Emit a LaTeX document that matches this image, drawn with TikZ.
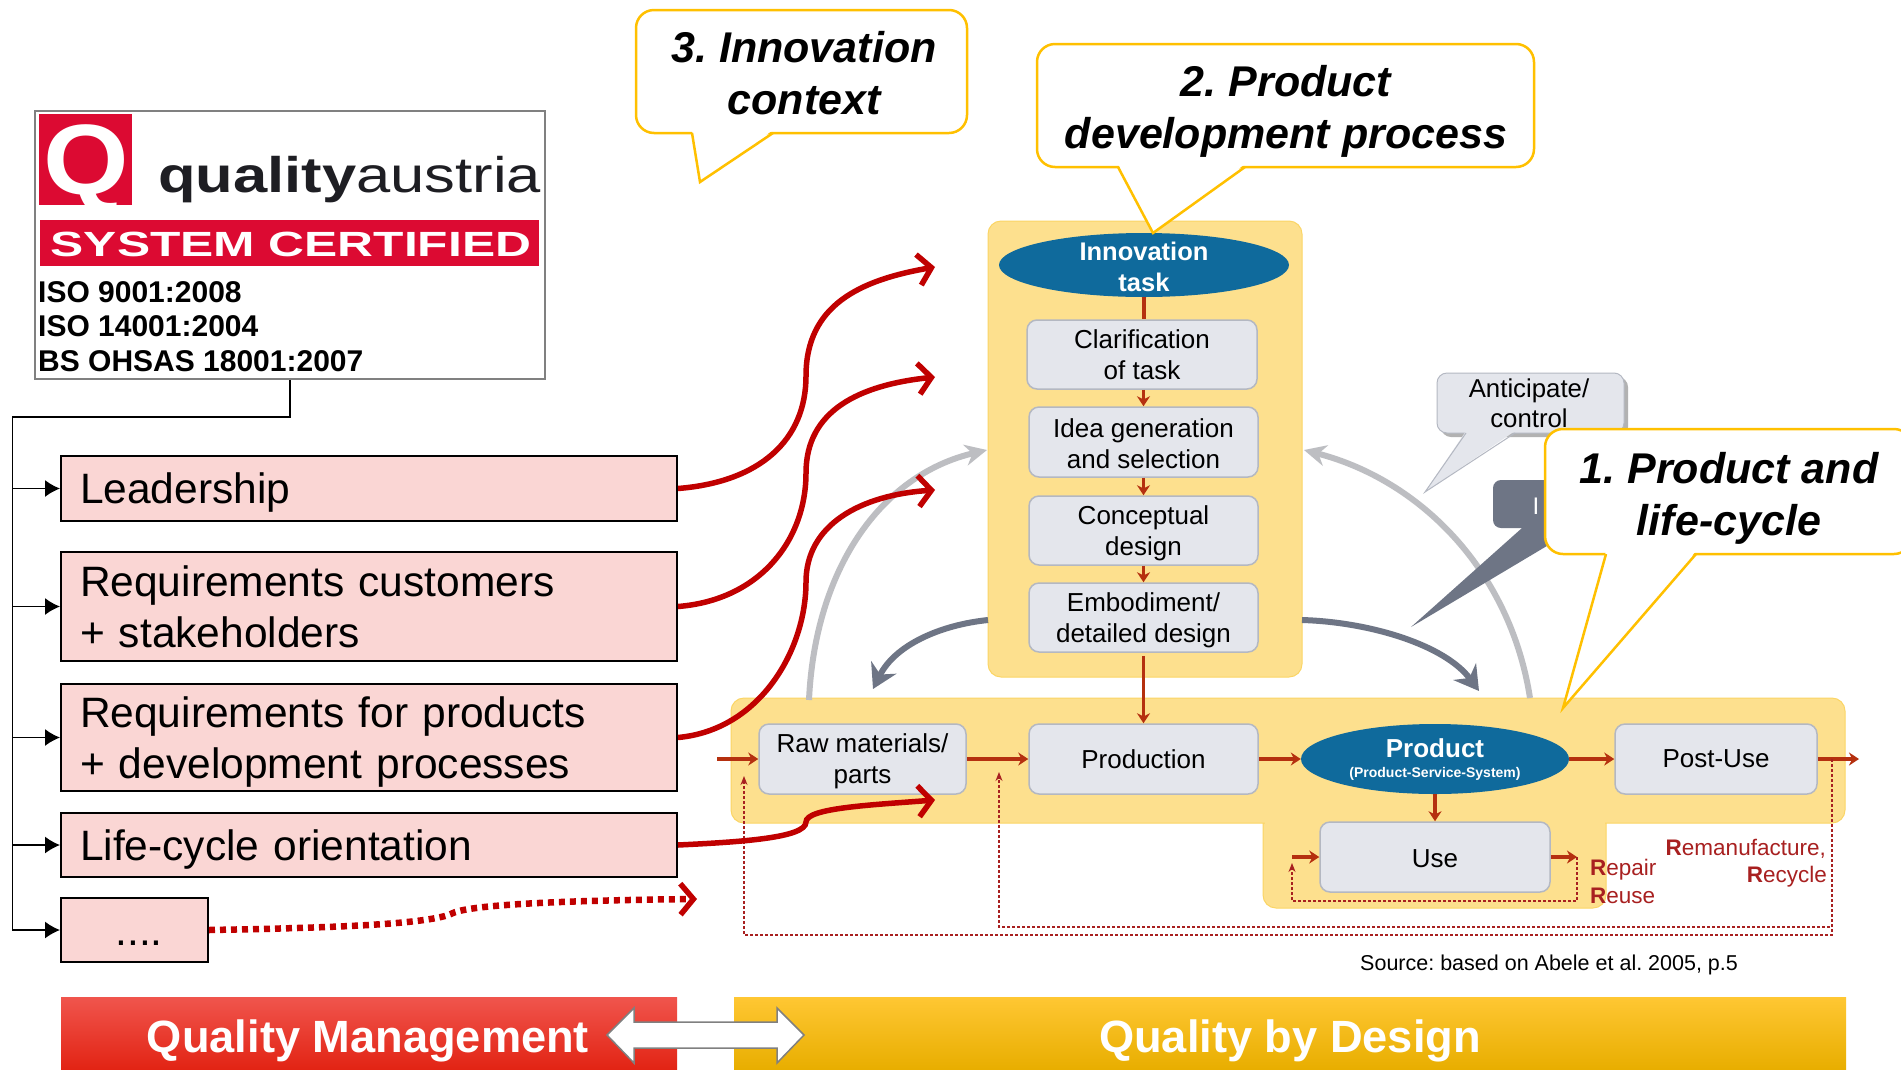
\documentclass[tikz,border=0pt]{standalone}
\usepackage{fontspec}
\setmainfont{Liberation Sans}
\usetikzlibrary{arrows.meta,shapes.geometric}
\frenchspacing
\newcommand{\fsz}[2]{\fontsize{#1}{#2}\selectfont}
\newcommand{\shim}[1]{\rule{0pt}{#1pt}}
\definecolor{pinkfill}{HTML}{FAD6D4}
\definecolor{panelfill}{HTML}{FDE08E}
\definecolor{panelline}{HTML}{FBD565}
\definecolor{boxfill}{HTML}{E4E6EC}
\definecolor{boxline}{HTML}{B4B8C2}
\definecolor{ovalfill}{HTML}{0F6A9C}
\definecolor{thickred}{HTML}{C00000}
\definecolor{procred}{HTML}{B5300F}
\definecolor{labred}{HTML}{A82020}
\definecolor{calloutline}{HTML}{FFC000}
\definecolor{lightarc}{HTML}{BDBEC2}
\definecolor{darkarc}{HTML}{6E7585}
\definecolor{logored}{HTML}{DC0A32}
\definecolor{barRa}{HTML}{F0554D}
\definecolor{barRb}{HTML}{EC3323}
\definecolor{barRc}{HTML}{E22414}
\definecolor{barYa}{HTML}{FFC733}
\definecolor{barYb}{HTML}{FFC000}
\definecolor{barYc}{HTML}{E8AE00}
\tikzset{
  pinkbox/.style={draw=black,line width=2pt,fill=pinkfill,anchor=north west,inner sep=0pt,align=left,font=\fsz{42.5}{51}},
  panel/.style={fill=panelfill,draw=panelline,line width=1pt,rounded corners=13pt},
  procbox/.style={draw=boxline,line width=1.5pt,fill=boxfill,rounded corners=10pt,align=center,inner sep=0pt,font=\fsz{26}{31}},
  oval/.style={ellipse,fill=ovalfill,inner sep=0pt},
  ovaltext/.style={inner sep=0pt,align=center,text=white},
  flow/.style={draw=procred,line width=3.5pt,-{Stealth[length=10pt,width=13pt]}},
  back/.style={draw=labred,line width=1.1pt,densely dashed,-{Stealth[length=9pt,width=7pt]}},
  bigcurve/.style={draw=thickred,line width=5.5pt,line cap=butt,-{Straight Barb[length=13pt,width=31pt,line width=5.5pt]}},
  bus/.style={draw=black,line width=1.5pt},
  busarrow/.style={bus,-{Latex[length=15pt,width=17pt]}},
  calloutshape/.style={draw=calloutline,line width=2.5pt,fill=white,rounded corners=18pt},
  callouttail/.style={draw=calloutline,line width=2.5pt,line join=miter},
  callouttext/.style={align=center,inner sep=0pt,font=\fsz{43}{51.5}\bfseries\itshape},
  lightcurve/.style={draw=lightarc,line width=6pt,-{Stealth[length=22pt,width=21pt]}},
  darkcurve/.style={draw=darkarc,line width=6pt,-{Stealth[length=24pt,width=28pt]}},
  redlab/.style={text=labred,inner sep=0pt,anchor=base,font=\fsz{22.5}{27}},
  plain/.style={inner sep=0pt,anchor=base west},
  barlabel/.style={text=white,inner sep=0pt,anchor=base,font=\fsz{45.2}{50}\bfseries},
}
\begin{document}
\begin{tikzpicture}[x=1pt,y=-1pt]
\useasboundingbox (0,0) rectangle (1901,1069);
\fill[white] (0,0) rectangle (1901,1069);

% logo
\node[draw={rgb,255:red,128;green,128;blue,128},line width=2.5pt,fill=white,minimum width=510pt,minimum height=268pt,inner sep=0pt] (logo) at (290,245) {};
\node[fill=logored,minimum width=93pt,minimum height=91pt,inner sep=0pt] (qsquare) at (85.5,159.5) {};
\node[text=white,inner sep=0pt,anchor=base,font=\fsz{100}{100}\bfseries] (qmark) at (86,194) {\scalebox{1.1}[1]{Q}};
\node[plain,text={rgb,255:red,30;green,30;blue,35}] (qaname) at (158,192) {\scalebox{1.23}[1]{\fsz{50}{50}\textbf{quality}austria}};
\node[fill=logored,minimum width=499pt,minimum height=46pt,inner sep=0pt] (sysbar) at (289.5,243) {};
\node[text=white,inner sep=0pt,anchor=base,font=\fsz{35}{35}\bfseries] (systext) at (291,256) {\scalebox{1.42}[1]{SYSTEM CERTIFIED}};
\node[plain,font=\fsz{30}{30}\bfseries] (iso1) at (38,302) {ISO 9001:2008};
\node[plain,font=\fsz{30}{30}\bfseries] (iso2) at (38,336) {ISO 14001:2004};
\node[plain,font=\fsz{30}{30}\bfseries] (iso3) at (38,371) {BS OHSAS 18001:2007};

% pink boxes
\node[pinkbox,minimum width=616pt,minimum height=65pt,text width=578pt,inner xsep=19pt] (lead) at (60,455) {\shim{39}Leadership};
\node[pinkbox,minimum width=616pt,minimum height=109pt,text width=578pt,inner xsep=19pt] (cust) at (60,551) {Requirements customers\\+ stakeholders};
\node[pinkbox,minimum width=616pt,minimum height=107pt,text width=578pt,inner xsep=19pt] (prod) at (60,683) {\shim{39}Requirements for products\\+ development processes};
\node[pinkbox,minimum width=616pt,minimum height=64pt,text width=578pt,inner xsep=19pt] (life) at (60,812) {\shim{39}Life-cycle orientation};
\node[pinkbox,minimum width=147pt,minimum height=64pt] (more) at (60,897) {};
\node[inner sep=0pt,anchor=base,font=\fsz{42.5}{51}] (moretext) at (139,945) {....};

% bus
\coordinate (busturn) at (12.5,417);
\coordinate (busend) at (12.5,931);
\draw[bus] (logo.south) |- (busturn) -- (busend);
\draw[busarrow] (busturn |- lead.west) -- (lead.west);
\draw[busarrow] (busturn |- cust.west) -- (cust.west);
\draw[busarrow] (busturn |- prod.west) -- (prod.west);
\draw[busarrow] (busturn |- life.west) -- (life.west);
\draw[busarrow] (busturn |- more.west) -- (more.west);

% yellow panels
\path[panel] (988,221) rectangle (1302,677);
\path[panel] (1263,790) rectangle (1606,908);
\path[panel] (731,698) rectangle (1845,823);
\fill[panelfill] (1264.5,815) rectangle (1604.5,830);

% grey arcs
\coordinate (lightLa) at (809,700);
\coordinate (lightLb) at (987,450);
\coordinate (lightRa) at (1530,698);
\coordinate (lightRb) at (1304,450);
\draw[lightcurve] (lightLa) .. controls (815,570) and (880,475) .. (lightLb);
\draw[lightcurve] (lightRa) .. controls (1510,570) and (1420,480) .. (lightRb);
\coordinate (darkLa) at (988,620);
\coordinate (darkLb) at (873,689);
\coordinate (darkRa) at (1302,620);
\coordinate (darkRb) at (1479,691);
\draw[darkcurve] (darkLa) .. controls (940,625) and (895,645) .. (darkLb);
\draw[darkcurve] (darkRa) .. controls (1370,622) and (1445,645) .. (darkRb);

% vertical process
\node[oval,minimum width=290pt,minimum height=64pt] (task) at (1144,265) {};
\node[ovaltext,font=\fsz{25.5}{31}\bfseries] (tasktext) at (1144,266.5) {Innovation\\task};
\node[procbox,minimum width=230pt,minimum height=69pt] (clar) at (1142,354.5) {Clarification\\of task};
\node[procbox,minimum width=229pt,minimum height=70pt] (idea) at (1143.5,442) {\shim{21.5}Idea generation\\and selection};
\node[procbox,minimum width=229pt,minimum height=69pt] (conc) at (1143.5,530.5) {\shim{24}Conceptual\\design};
\node[procbox,minimum width=229pt,minimum height=69pt] (embo) at (1143.5,617.5) {\shim{25}Embodiment/\\detailed design};
\draw[draw=procred,line width=4pt] (task.south) -- (clar.north -| task.south);
\draw[flow] (clar.south -| idea.north) -- (idea.north);
\draw[flow] (idea.south) -- (conc.north);
\draw[flow] (conc.south) -- (embo.north);

% horizontal process
\node[procbox,minimum width=207pt,minimum height=70pt] (raw) at (862.5,759) {\shim{24}Raw materials/\\parts};
\node[procbox,minimum width=229pt,minimum height=70pt] (pdn) at (1143.5,759) {Production};
\node[oval,minimum width=268pt,minimum height=70pt] (pct) at (1435,759) {};
\node[ovaltext,anchor=base,font=\fsz{26}{26}\bfseries] (pcttext) at (1435,757) {Product};
\node[ovaltext,anchor=base,font=\fsz{14}{16}\bfseries] (pctsub) at (1435,777) {(Product-Service-System)};
\node[procbox,minimum width=202pt,minimum height=70pt] (post) at (1716,759) {Post-Use};
\node[procbox,minimum width=230pt,minimum height=70pt] (use) at (1435,857) {\shim{21}Use};
\coordinate (flowin) at (717,759);
\coordinate (flowout) at (1859,759);
\coordinate (usein) at (1292,857);
\coordinate (useout) at (1577,857);
\draw[flow] (flowin) -- (raw.west);
\draw[flow] (raw.east) -- (pdn.west);
\draw[flow] (pdn.east) -- (pct.west);
\draw[flow] (pct.east) -- (post.west);
\draw[flow] (post.east) -- (flowout);
\draw[flow] (embo.south) ++(0,3) -- (pdn.north);
\draw[flow] (pct.south) -- (use.north);
\draw[flow] (usein) -- (use.west);
\draw[flow] (use.east) -- (useout);

% feedback loops
\coordinate (outerstart) at (1832,759);
\coordinate (arrowA) at (999,772);
\coordinate (arrowB) at (744,776);
\coordinate (usearrow) at (1292,863);
\draw[back] (useout) -- (1577,901) -- (1292,901) -- (usearrow);
\draw[back] (outerstart) -- (1832,927) -- (999,927) -- (arrowA);
\draw[back] (outerstart) -- (1832,935) -- (744,935) -- (arrowB);

% red labels
\node[redlab,anchor=base east] (reman) at (1826,855) {\textbf{R}emanufacture,};
\node[redlab,anchor=base east] (recyc) at (1827,882) {\textbf{R}ecycle};
\node[redlab,anchor=base west] (repair) at (1590,875) {\textbf{R}epair};
\node[redlab,anchor=base west] (reuse) at (1590,903) {\textbf{R}euse};
\node[inner sep=0pt,anchor=base west,font=\fsz{21.5}{25}] (source) at (1360,970) {Source: based on Abele et al. 2005, p.5};

% thick red curves
\coordinate (endA) at (935,267);
\coordinate (endB) at (935,377);
\coordinate (endC) at (935,490);
\coordinate (endD) at (935,800);
\coordinate (endE) at (697,899);
\draw[bigcurve] (lead.east) .. controls (760,482) and (806,440) .. (806,376) .. controls (806,305) and (860,280) .. (endA);
\draw[bigcurve] (cust.east) .. controls (760,600) and (806,540) .. (806,473) .. controls (806,410) and (860,385) .. (endB);
\draw[bigcurve] (prod.east) .. controls (760,730) and (806,650) .. (806,582) .. controls (806,525) and (860,495) .. (endC);
\draw[bigcurve] (life.east) .. controls (740,842) and (806,838) .. (806,822) .. controls (806,808) and (870,805) .. (endD);
\draw[bigcurve,dash pattern=on 6pt off 5pt,line width=6.5pt] (more.east) .. controls (320,928) and (430,925) .. (453,913) .. controls (475,903) and (600,900) .. (endE);

% dark callout
\fill[darkarc] (1522,528) -- (1411,627) -- (1577,528) -- cycle;
\fill[darkarc,rounded corners=8pt] (1493,480) rectangle (1640,528);
\node[text=white,inner sep=0pt,anchor=base,font=\fsz{24}{24}] (itext) at (1536,514) {I};

% anticipate
\fill[black!30,rounded corners=10pt] (1441,377) rectangle (1628,437);
\draw[draw=boxline,line width=1pt,fill=boxfill,rounded corners=10pt] (1437,373) rectangle (1624,433);
\fill[boxfill] (1466,431) -- (1425,492) -- (1515,431) -- cycle;
\draw[draw=boxline,line width=1pt] (1466,433) -- (1425,492) -- (1515,433);
\node[align=center,inner sep=0pt,font=\fsz{25.8}{30}] (anticip) at (1529,403) {Anticipate/\\control};

% yellow callouts
\draw[calloutshape] (636,10) rectangle (967,133);
\fill[white] (692,130) -- (700,182) -- (773,130) -- cycle;
\draw[callouttail] (692,133) -- (700,182) -- (773,133);
\node[callouttext] (c3) at (804,73) {3. Innovation\\context};
\draw[calloutshape] (1037,44) rectangle (1534,167);
\fill[white] (1118,164) -- (1153,233) -- (1245,164) -- cycle;
\draw[callouttail] (1118,167) -- (1153,233) -- (1245,167);
\node[callouttext] (c2) at (1286,111.5) {2. Product\\development process};
\draw[calloutshape] (1545,429) rectangle (1912,554);
\fill[white] (1606,551) -- (1563,708) -- (1696,551) -- cycle;
\draw[callouttail] (1606,554) -- (1563,708) -- (1696,554);
\node[callouttext,font=\fsz{43}{52}\bfseries\itshape] (c1) at (1729,498) {1. Product and\\life-cycle};

% bottom bars
\node[minimum width=616pt,minimum height=72pt,inner sep=0pt,top color=barRa,middle color=barRb,bottom color=barRc] (qmbar) at (369,1033) {};
\node[barlabel] (qmtext) at (368,1052) {Quality Management};
\node[minimum width=1112pt,minimum height=72pt,inner sep=0pt,top color=barYa,middle color=barYb,bottom color=barYc] (qdbar) at (1290,1033) {};
\node[barlabel] (qdtext) at (1290,1052) {Quality by Design};

% double arrow
\draw[draw=gray,line width=1.5pt,fill=white] (607,1035) -- (634,1008) -- (634,1022) -- (777,1022) -- (777,1008) -- (804,1035) -- (777,1063) -- (777,1048) -- (634,1048) -- (634,1063) -- cycle;
\end{tikzpicture}
\end{document}
